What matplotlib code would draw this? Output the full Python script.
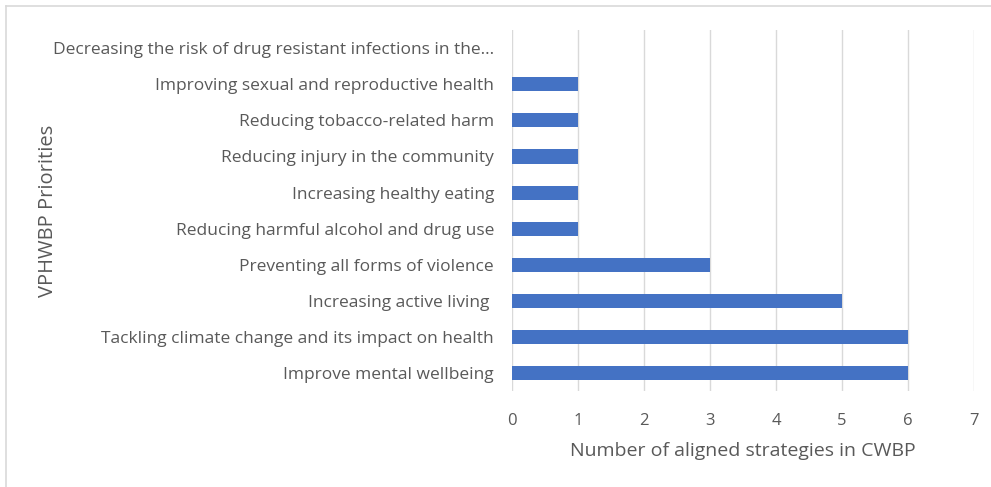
import matplotlib.pyplot as plt
from matplotlib.lines import Line2D

priorities = [
    "Improve mental wellbeing",
    "Tackling climate change and its impact on health",
    "Increasing active living ",
    "Preventing all forms of violence",
    "Reducing harmful alcohol and drug use",
    "Increasing healthy eating",
    "Reducing injury in the community",
    "Reducing tobacco-related harm",
    "Improving sexual and reproductive health",
    "Decreasing the risk of drug resistant infections in the\u2026",
]
strategies = [6, 6, 5, 3, 1, 1, 1, 1, 1, 0]
xticks = [0, 1, 2, 3, 4, 5, 6, 7]

plt.rcParams['font.family'] = ['Open Sans', 'DejaVu Sans']
text_color = '#595959'

fig = plt.figure(figsize=(9.91, 4.87), dpi=100)
ax = fig.add_axes([0.5166, 0.197, 0.4663, 0.741])

ax.barh(range(len(priorities)), strategies, height=0.39, color='#4472C4',
        linewidth=0, zorder=3)
ax.set_xlim(0, 7)
ax.set_ylim(-0.5, len(priorities) - 0.5)
ax.set_xticks(xticks)
ax.set_yticks(range(len(priorities)))
ax.set_yticklabels(priorities)
ax.grid(axis='x', color='#d9d9d9', linewidth=1, zorder=0)
for s in ['top', 'right', 'bottom', 'left']:
    ax.spines[s].set_visible(False)
ax.tick_params(axis='both', length=0, labelcolor=text_color)
ax.tick_params(axis='x', pad=16, labelsize=12)
ax.tick_params(axis='y', pad=13, labelsize=12.5)

ax.set_xlabel('Number of aligned strategies in CWBP', fontsize=14, color=text_color, labelpad=9)
fig.text(0.048, 0.568, 'VPHWBP Priorities', rotation=90, fontsize=14.5,
         color=text_color, ha='center', va='center')

# chart frame
fig.add_artist(Line2D([0.006, 0.006], [0, 0.988], color='#d9d9d9', linewidth=1.2,
                      transform=fig.transFigure))
fig.add_artist(Line2D([0.006, 1.0], [0.988, 0.988], color='#d9d9d9', linewidth=1.2,
                      transform=fig.transFigure))

fig.savefig('out.png', dpi=100, facecolor='white')
